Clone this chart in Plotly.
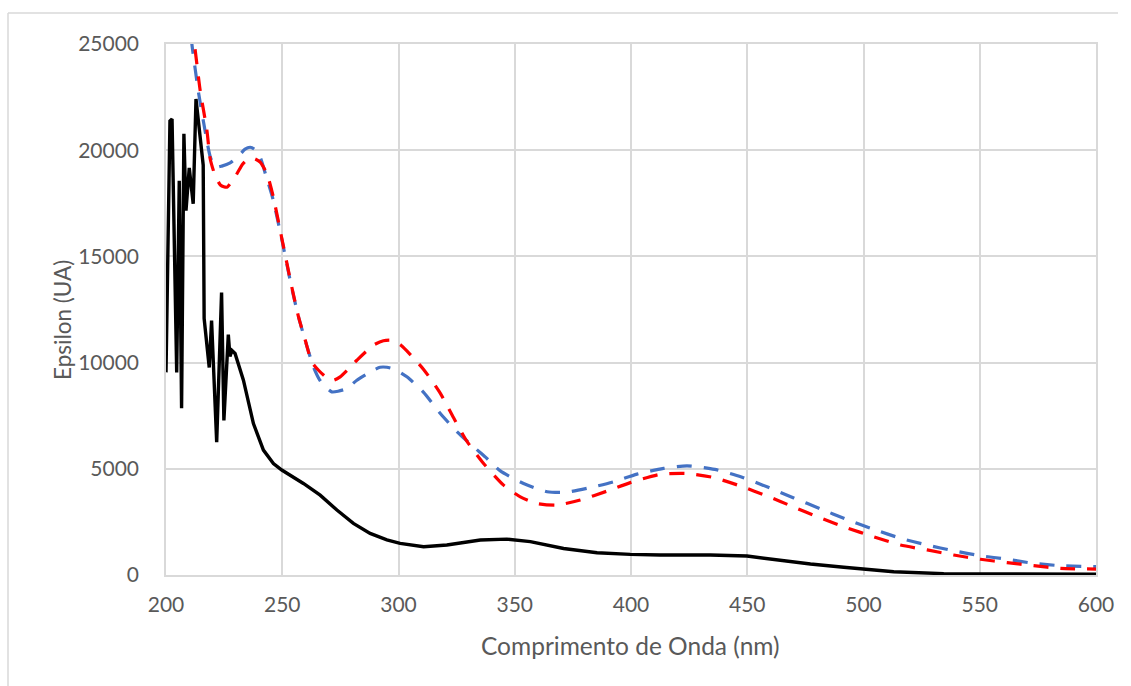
import plotly.graph_objects as go

# ---- data ----
wl_black = [200.0, 201.7, 202.6, 204.6, 205.7, 206.7, 207.7, 208.6, 210.0, 211.7,
            212.9, 214.6, 216.0, 216.4, 218.6, 219.6, 221.8, 223.9, 224.9, 226.8,
            227.5, 228.4, 229.7, 233.3, 237.6, 241.9, 246.2, 249.8, 254.0, 259.1,
            266.3, 273.5, 280.6, 287.8, 295.0, 300.7, 310.8, 320.8, 335.2, 346.6,
            356.7, 371.0, 385.4, 399.7, 412.6, 434.1, 449.9, 462.8, 477.2, 491.5,
            500.1, 513.0, 534.5, 550.3, 575.0, 600.0]
eps_black = [9540, 21380, 21470, 9540, 18560, 7850, 20770, 17150, 19170, 17480,
             22410, 20770, 19300, 12080, 9770, 11980, 6250, 13300, 7280, 11320,
             10290, 10570, 10430, 9170, 7130, 5880, 5250, 4940, 4650, 4310,
             3760, 3060, 2430, 1960, 1650, 1490, 1330, 1410, 1650, 1690,
             1570, 1250, 1050, 970, 940, 940, 893, 705, 517, 362,
             282, 155, 61, 47, 38, 33]

wl_red = [210.5, 212.2, 214.7, 217.6, 219.0, 221.0, 223.5, 226.2, 230.0, 233.0,
          235.4, 238.0, 240.5, 243.4, 246.0, 250.0, 254.1, 257.0, 259.9, 262.7,
          265.6, 269.0, 272.0, 274.9, 278.0, 282.1, 289.2, 293.5, 297.0, 300.7,
          303.6, 310.8, 318.0, 323.7, 329.4, 336.6, 345.2, 352.4, 359.5, 368.1,
          378.2, 389.7, 399.7, 412.6, 424.1, 435.5, 447.0, 458.5, 470.0, 481.4,
          492.9, 504.4, 515.9, 527.4, 538.8, 550.3, 561.8, 573.2, 584.7, 600.0]
eps_red = [26000, 25000, 22810, 20930, 19600, 18850, 18350, 18260, 18800, 19350,
           19600, 19600, 19440, 18900, 17870, 15750, 13560, 12150, 11050, 10030,
           9640, 9300, 9170, 9330, 9650, 10110, 10820, 11030, 11050, 10850,
           10550, 9680, 8550, 7400, 6300, 5250, 4230, 3680, 3370, 3290,
           3530, 3950, 4350, 4740, 4780, 4590, 4190, 3720, 3200, 2690,
           2220, 1800, 1410, 1180, 940, 740, 580, 440, 310, 280]

wl_blue = [209.5, 211.3, 214.0, 217.0, 219.0, 221.1, 224.0, 227.6, 231.0, 234.0,
           236.2, 238.0, 240.5, 243.0, 246.0, 250.0, 254.0, 257.0, 260.0, 263.4,
           266.0, 268.5, 271.3, 274.0, 277.8, 282.1, 289.2, 292.1, 295.0, 298.6,
           303.6, 310.8, 318.0, 325.1, 332.3, 337.3, 343.8, 353.8, 363.9, 372.5,
           383.9, 392.5, 402.6, 414.0, 424.1, 436.0, 447.5, 458.5, 470.0, 481.4,
           492.9, 504.4, 515.9, 527.4, 538.8, 550.3, 561.8, 573.2, 584.7, 600.0]
eps_blue = [26500, 24850, 22700, 20800, 19700, 19200, 19250, 19400, 19700, 20050,
            20140, 20050, 19670, 18800, 17700, 15700, 13560, 12150, 11000, 9800,
            9200, 8860, 8620, 8650, 8780, 9170, 9640, 9780, 9780, 9670,
            9330, 8600, 7600, 6750, 6030, 5560, 4900, 4310, 3920, 3900,
            4150, 4390, 4750, 5020, 5140, 4970, 4610, 4150, 3630, 3120,
            2610, 2150, 1730, 1410, 1140, 910, 740, 550, 440, 390]

x_ticks = [200, 250, 300, 350, 400, 450, 500, 550, 600]
y_ticks = [0, 5000, 10000, 15000, 20000, 25000]

x_title = "Comprimento de Onda (nm)"
y_title = "Epsilon (UA)"

# ---- figure ----
FONT = "Lato, 'Open Sans', sans-serif"
GRID = "#D9D9D9"
TXT = "#595959"

fig = go.Figure()
fig.add_trace(go.Scatter(x=wl_blue, y=eps_blue, mode="lines",
                         line=dict(color="#4472C4", width=3.2, dash="15px,12px",
                                   shape="spline", smoothing=0.6),
                         showlegend=False))
fig.add_trace(go.Scatter(x=wl_red, y=eps_red, mode="lines",
                         line=dict(color="#FF0000", width=3.2, dash="15px,12px",
                                   shape="spline", smoothing=0.6),
                         showlegend=False))
fig.add_trace(go.Scatter(x=wl_black, y=eps_black, mode="lines",
                         line=dict(color="#000000", width=3.4),
                         showlegend=False))

L, R, T, B = 166, 35, 44, 111
W, H = 1131, 686
pw, ph = W - L - R, H - T - B

def px_x(p):
    return (p - L) / pw

def px_y(p):
    return (H - B - p) / ph

fig.update_layout(
    width=W, height=H,
    margin=dict(l=L, r=R, t=T, b=B, pad=0),
    paper_bgcolor="white", plot_bgcolor="white",
    font=dict(family=FONT, size=21, color=TXT),
    xaxis=dict(range=[200, 600], tickvals=x_ticks, showgrid=True,
               gridcolor=GRID, gridwidth=1.5, zeroline=False,
               showline=True, linecolor=GRID, linewidth=1.5, mirror=True,
               ticks="outside", ticklen=10, tickcolor="rgba(0,0,0,0)",
               tickfont=dict(family=FONT, size=21, color=TXT)),
    yaxis=dict(range=[0, 25000], tickvals=y_ticks, tickformat="d", showgrid=True,
               gridcolor=GRID, gridwidth=1.5, zeroline=False,
               showline=True, linecolor=GRID, linewidth=1.5, mirror=True,
               ticks="outside", ticklen=21, tickcolor="rgba(0,0,0,0)",
               tickfont=dict(family=FONT, size=21, color=TXT)),
    annotations=[
        dict(text=x_title, xref="paper", yref="paper",
             x=px_x(630), y=px_y(645), xanchor="center", yanchor="middle",
             showarrow=False, font=dict(family=FONT, size=24.5, color=TXT)),
        dict(text=y_title, xref="paper", yref="paper",
             x=px_x(62), y=px_y(320), xanchor="center", yanchor="middle",
             textangle=-90, showarrow=False,
             font=dict(family=FONT, size=22.5, color=TXT)),
    ],
    shapes=[
        dict(type="line", xref="paper", yref="paper",
             x0=px_x(8), x1=px_x(8), y0=px_y(13), y1=px_y(690),
             line=dict(color=GRID, width=1.5)),
        dict(type="line", xref="paper", yref="paper",
             x0=px_x(8), x1=px_x(1118), y0=px_y(13), y1=px_y(13),
             line=dict(color=GRID, width=1.5)),
    ],
)

fig.write_html("out.html")
